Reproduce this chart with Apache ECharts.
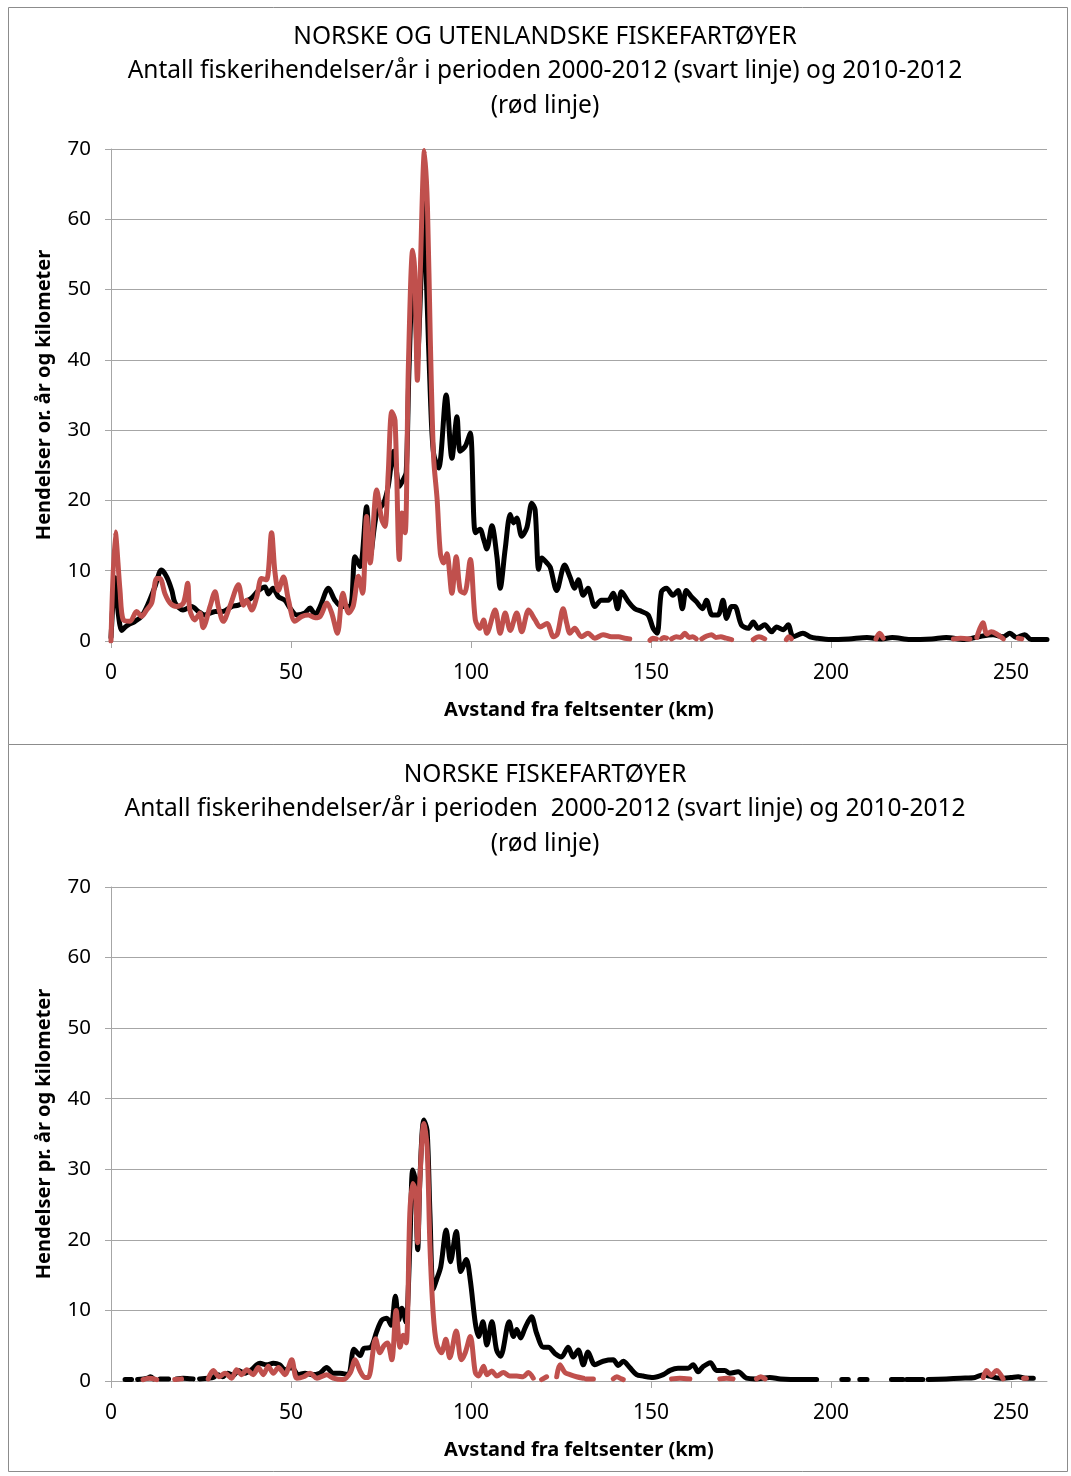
<!DOCTYPE html>
<html>
<head>
<meta charset="utf-8">
<script src="https://cdn.jsdelivr.net/npm/echarts@6/dist/echarts.min.js"></script>
<style>
html,body{margin:0;padding:0;background:#fff;}
#chart{width:1071px;height:1476px;}
</style>
</head>
<body>
<div id="chart"></div>
<script>
// ---- data (km, events per year and km) ----
var xTicks = [0, 50, 100, 150, 200, 250];
var yTicks = [0, 10, 20, 30, 40, 50, 60, 70];

var titleTop = ['NORSKE OG UTENLANDSKE FISKEFARTØYER',
  'Antall fiskerihendelser/år i perioden 2000-2012 (svart linje) og 2010-2012',
  '(rød linje)'];
var titleBottom = ['NORSKE FISKEFARTØYER',
  'Antall fiskerihendelser/år i perioden  2000-2012 (svart linje) og 2010-2012',
  '(rød linje)'];
var xName = 'Avstand fra feltsenter (km)';
var yNameTop = 'Hendelser or. år og kilometer';
var yNameBottom = 'Hendelser pr. år og kilometer';

var topBlack = [[0,0.5],[0.6,6],[1.1,9],[2,4],[3,1.5],[4,2],[4.8,2.3],[6.7,2.8],[8.5,3.5],[10.4,5.4],[12.2,7.7],[14,10.1],[15.5,9.1],[16.9,7.2],[17.8,5.4],[20,4.4],[22.4,4.9],[24.3,4.2],[26,3.7],[29,4.2],[31,4.2],[33.5,4.9],[35.4,5.1],[37.2,5.6],[39,6.1],[41,7.2],[42.8,7.7],[43.7,6.7],[45,7.5],[46.5,6.3],[48.3,5.8],[49.7,4.7],[51.6,3.7],[53.9,4.0],[55.3,4.7],[56.7,3.7],[58.1,4.9],[60.4,7.5],[62.2,5.8],[64.1,4.9],[66.4,4.9],[67.8,12.0],[69.2,10.6],[71,19.1],[72,12],[73.8,18.2],[75.7,19.6],[77,22],[78.5,27],[80.1,22],[81.2,23],[82,24],[82.8,39],[83.8,50],[84.5,48],[85.1,40],[86,50],[86.8,62.5],[87.7,50],[88.7,35],[89.6,26.7],[91,24.6],[93.1,35],[94.7,26],[96.1,31.9],[97,27],[98.4,27.7],[99.8,29.6],[101.2,15.4],[102.5,15.9],[103.5,14.5],[104.4,13.1],[105.8,16.4],[107.2,12.0],[108.1,7.5],[109.5,13.1],[110.9,18.0],[111.8,16.8],[112.7,17.5],[114.1,14.9],[115.5,16.1],[116.9,19.6],[117.8,18.7],[118.8,10.2],[119.7,11.8],[121.1,11.1],[122,10.5],[123.8,7.2],[126,10.8],[127.5,9.1],[128.8,7.5],[129.8,8.7],[131.2,6.5],[132.5,7.5],[134.4,4.9],[136.2,5.8],[138.1,5.8],[139.5,6.8],[140.7,4.6],[141.8,7.0],[143.7,5.6],[145.5,4.6],[147.4,4.2],[149.2,3.7],[150.6,1.8],[151.7,1.1],[152.9,7],[154.3,7.5],[156.1,6.5],[157.5,7.2],[158.7,4.6],[159.8,7.2],[161.2,6.3],[162.6,5.6],[164.3,4.6],[165.4,5.8],[167,3.7],[168.6,3.7],[170,5.8],[171,3.2],[172.4,4.9],[173.3,4.9],[175.1,2.3],[177,1.8],[178.4,2.7],[179.8,1.8],[181.6,2.3],[183.5,1.3],[184.9,2],[186.7,1.6],[188.1,2.3],[189.5,0.6],[192.2,1.1],[194.2,0.6],[196,0.4],[200,0.2],[205,0.3],[210,0.5],[214,0.3],[217,0.5],[222,0.2],[228,0.3],[232,0.5],[237,0.2],[241,0.6],[245,0.9],[247.8,0.6],[249.7,1.1],[251.5,0.5],[253.8,0.9],[255.6,0.2],[260,0.2]];

var topRed = [[0,0],[1.2,15.5],[2.5,7.2],[3.4,3],[5.3,2.8],[7.1,4.2],[8.5,3.5],[9.9,4.4],[11.3,5.4],[12.7,8.9],[13.6,8.9],[15,6.7],[16.4,5.4],[18.2,4.9],[20.1,5.4],[21.3,8.2],[21.9,4.4],[23.3,3],[24.7,4],[25.6,1.9],[27.5,4.9],[28.9,7],[29.8,4.9],[31.2,2.8],[33,4.9],[35.4,8],[36.8,5.1],[37.7,5.8],[39.1,4.4],[40.5,6.3],[41.8,8.9],[43.2,8.7],[44.6,15.4],[45.5,10],[46.5,7.2],[47.9,9.1],[49.3,5.8],[51.1,2.8],[53,3.5],[54.8,3.7],[56.7,3.3],[58.1,3.5],[60,5.4],[61.3,4],[62.9,1.1],[64.4,6.8],[66,4],[67.3,5],[68.7,9.2],[69.9,6.8],[71,17.7],[72,11.1],[73.8,21.5],[75.2,17.3],[76.1,16.3],[77,23.8],[78,32.6],[78.9,31.4],[80.1,11.6],[80.8,18.2],[81.7,15.4],[82.6,39],[83.8,55.6],[84.4,52.3],[85.1,37.1],[85.9,52.3],[87.1,69.8],[87.9,61.8],[88.7,42.8],[89.6,26.2],[90.6,20.1],[91.5,12.4],[92.4,11.1],[93.3,12.4],[94.7,6.8],[95.9,12.0],[97,7.2],[98.2,6.8],[99.8,11.6],[101.2,3],[102.5,1.8],[103.5,3],[104.4,1.1],[106.7,4.4],[108.1,1.1],[109.5,4],[110.9,1.5],[112.7,4],[114.1,1.3],[116,4.4],[117.8,3],[119.2,2],[121.1,2.5],[122.9,0.6],[124,1],[125.6,4.6],[126.6,2.5],[127.5,1.1],[128.8,1.8],[130.7,0.6],[132.5,1.1],[134.4,0.4],[136.7,0.9],[139,0.6],[141,0.6],[142.7,0.4],[144.1,0.3],[146,null],[149.7,0.1],[150.5,0.4],[151.5,0.3],[152.2,null],[152.9,0.3],[153.6,0.5],[154.3,0.4],[155,null],[155.7,0.3],[157,0.6],[158.2,0.5],[159.4,1.1],[160.6,0.5],[161.6,0.6],[162.6,0.3],[163.4,null],[164.1,0.3],[165.5,0.7],[166.8,0.9],[168,0.5],[169.4,0.6],[170.8,0.4],[172.4,0.2],[175,null],[178.4,0.2],[180,0.6],[181.6,0.3],[184,null],[187.6,0.2],[188.3,0.6],[189,0.3],[195,null],[212.5,0.3],[213.5,1.1],[214.5,0.4],[220,null],[234,0.3],[236,0.4],[238.6,0.3],[239.5,null],[240.5,0.5],[242.2,2.6],[243.3,1.0],[244.5,1.3],[246,1.0],[247.9,0.3],[250,null],[252,0.4],[253,0.3]];

var bottomBlack = [[3.9,0.2],[5.7,0.2],[6.5,null],[7.4,0.2],[10.2,0.4],[11,0.6],[11.8,0.3],[12.5,null],[13.6,0.3],[16,0.3],[17,null],[18.2,0.3],[20,0.4],[22.8,0.3],[23.5,null],[24.6,0.3],[27,0.4],[28.4,0.5],[29.6,0.9],[31,0.6],[32.3,1.1],[34,0.8],[35.4,1.5],[37.2,1.1],[39,1.6],[40.5,2.3],[41.4,2.5],[43.2,2.3],[45.1,2.5],[46.8,2.3],[48.3,1.6],[50.2,1.9],[52,0.9],[53.9,1.1],[55.7,0.9],[58,1.1],[59.9,1.9],[61.7,1.1],[63.6,1.1],[65.9,0.9],[67.5,4.5],[69.2,3.6],[70.2,4.6],[72.2,4.8],[73.8,7],[75.2,8.6],[76.6,8.9],[77.8,7.9],[79,12],[79.9,8.6],[80.8,10.3],[81.9,8.4],[83,19],[83.8,29.9],[84.5,28.5],[85.2,18.6],[85.8,28.5],[86.9,37],[87.8,35.5],[88.6,23.7],[89.5,13],[90.4,14.3],[91.6,16.2],[93.1,21.4],[94.3,16.9],[95.9,21.2],[97.2,15.5],[98.7,17.2],[99.8,14.3],[101.2,8.2],[102.1,6.3],[103.3,8.4],[104.4,5.1],[105.8,8.4],[107.1,4.4],[108.2,3.5],[110.6,8.4],[111.8,6.3],[112.7,7.3],[113.8,6.1],[115,7.5],[116.8,9.1],[118.2,6.8],[120.1,4.8],[121.5,4.8],[123.3,3.9],[125.1,3.4],[127,4.8],[128.4,3.4],[129.8,4.4],[131.2,2.3],[132.5,4.1],[134.4,2.3],[136.7,2.8],[139.5,3],[140.9,2.2],[142.3,2.8],[144.1,1.9],[146,0.9],[147.8,0.7],[150.6,0.5],[153.4,0.9],[155.3,1.5],[157.5,1.8],[160.3,1.8],[161.7,2.3],[163.1,1.3],[164.4,2],[166.5,2.6],[168.2,1.5],[170.5,1.5],[171.9,1.1],[174.2,1.3],[176.5,0.4],[179,0.3],[183,0.5],[186,0.3],[191.4,0.2],[196,0.2],[197,null],[203,0.2],[204.8,0.2],[205.5,null],[208,0.2],[210,0.2],[211,null],[216.8,0.2],[220,0.2],[220.5,null],[221,0.2],[225.5,0.2],[226.2,null],[227,0.2],[232,0.3],[236,0.4],[240,0.5],[242.3,0.9],[244,0.7],[247,0.4],[250,0.5],[252,0.6],[254,0.4],[256.2,0.4]];

var bottomRed = [[8.9,0.2],[10.5,0.4],[12.7,0.2],[13.3,null],[17.7,0.2],[19.6,0.3],[20.5,null],[27,0.3],[28.4,1.5],[30,0.6],[31.7,1.1],[33.5,0.4],[34.9,1.6],[36.3,0.9],[37.7,1.6],[39.5,0.9],[40.9,1.9],[42.3,0.9],[43.7,2.1],[45.1,1.1],[46.5,1.9],[48.3,0.9],[50.2,3],[51.6,0.4],[53.5,0.6],[55.3,1.1],[57.2,0.4],[59.9,0.9],[61.7,0.4],[64.5,0.2],[66.5,1.2],[67.8,3],[69.2,1.4],[70.5,0.5],[71.5,0.5],[73.5,6],[74.7,4.0],[75.8,5],[76.8,5.4],[78,3],[79.2,10],[80.3,4.8],[81.2,6.5],[82,5.4],[83,23.7],[83.8,28],[84.5,27.1],[85.2,19.6],[85.8,28.5],[86.9,36.5],[87.8,33.2],[88.6,19.1],[89.5,9.6],[90.4,5.4],[91.8,4.0],[93,5.9],[94.1,3.3],[95.9,7.1],[97.3,3.0],[98.4,4],[99.8,6.3],[101.2,1.2],[102.1,0.7],[103.5,2.1],[104.4,0.9],[105.8,1.4],[107.2,0.7],[109,1.2],[110.8,0.7],[112.7,0.7],[114.5,0.6],[115.9,1.2],[117.3,0.4],[118,null],[119.6,0.2],[121,0.6],[121.5,null],[123.8,0.6],[124.7,2.3],[126.1,1.2],[127.5,0.9],[129.3,0.6],[131.2,0.4],[131.6,null],[132,0.3],[134,0.3],[135,null],[139.5,0.3],[140.5,0.6],[141.8,0.3],[142.3,0.2],[143,null],[155.7,0.3],[158,0.4],[160.8,0.3],[161.5,null],[169.1,0.3],[171,0.4],[172.8,0.3],[173.5,null],[179.3,0.3],[180.5,0.6],[181.7,0.3],[182.5,null],[242.3,0.5],[243.2,1.5],[244.5,0.8],[246,1.5],[247.8,0.3],[248.5,null],[253.5,0.4],[254.3,0.4]];

// ---- chart ----
var FONT = 'Noto Sans';
var GRID_COLOR = '#a6a6a6';
var chart = echarts.init(document.getElementById('chart'), null, {renderer: 'canvas'});

function titleGraphics(lines, y0) {
  return lines.map(function (t, i) {
    return {
      type: 'text', x: 545, y: y0 + i * 34.5, silent: true,
      style: {text: t, align: 'center', verticalAlign: 'middle',
        font: '24.5px "' + FONT + '"', fill: '#000'}
    };
  });
}

function xAxisFor(gi) {
  return {
    gridIndex: gi, type: 'value', min: 0, max: 260,
    name: xName, nameLocation: 'middle', nameGap: 59,
    nameTextStyle: {fontFamily: FONT, fontWeight: 'bold', fontSize: 20, color: '#000'},
    axisLine: {show: true, lineStyle: {color: GRID_COLOR, width: 1}},
    axisTick: {show: true, length: 7, customValues: xTicks, lineStyle: {color: GRID_COLOR}},
    axisLabel: {customValues: xTicks, margin: 22, fontFamily: FONT, fontSize: 21, color: '#000'},
    splitLine: {show: false}
  };
}
function yAxisFor(gi, name) {
  return {
    gridIndex: gi, type: 'value', min: 0, max: 70, interval: 10,
    name: name, nameLocation: 'middle', nameGap: 57, nameRotate: 90,
    nameTextStyle: {fontFamily: FONT, fontWeight: 'bold', fontSize: 20, color: '#000'},
    axisLine: {show: true, lineStyle: {color: GRID_COLOR, width: 1}},
    axisTick: {show: true, length: 6, lineStyle: {color: GRID_COLOR}},
    axisLabel: {margin: 20, fontFamily: FONT, fontSize: 20.5, color: '#000'},
    splitLine: {show: true, lineStyle: {color: GRID_COLOR, width: 1}}
  };
}
function lineSeries(data, gi, color, z) {
  return {
    type: 'line', xAxisIndex: gi, yAxisIndex: gi, data: data,
    showSymbol: false, smooth: 0.3, connectNulls: false, z: z,
    lineStyle: {color: color, width: 5, cap: 'round', join: 'round'},
    itemStyle: {color: color}, silent: true, animation: false
  };
}

var option = {
  backgroundColor: '#fff',
  animation: false,
  graphic: [
    {type: 'rect', shape: {x: 8.5, y: 7.5, width: 1059, height: 737}, style: {fill: 'none', stroke: '#8c8c8c', lineWidth: 1}, silent: true},
    {type: 'rect', shape: {x: 8.5, y: 744.5, width: 1059, height: 727}, style: {fill: 'none', stroke: '#8c8c8c', lineWidth: 1}, silent: true}
  ].concat(titleGraphics(titleTop, 37), titleGraphics(titleBottom, 775)),
  grid: [
    {left: 111, top: 149, width: 936, height: 492},
    {left: 111, top: 887, width: 936, height: 494}
  ],
  xAxis: [xAxisFor(0), xAxisFor(1)],
  yAxis: [yAxisFor(0, yNameTop), yAxisFor(1, yNameBottom)],
  series: [
    lineSeries(topBlack, 0, '#000000', 2),
    lineSeries(topRed, 0, '#c0504d', 3),
    lineSeries(bottomBlack, 1, '#000000', 2),
    lineSeries(bottomRed, 1, '#c0504d', 3)
  ]
};
chart.setOption(option);
</script>
</body>
</html>
